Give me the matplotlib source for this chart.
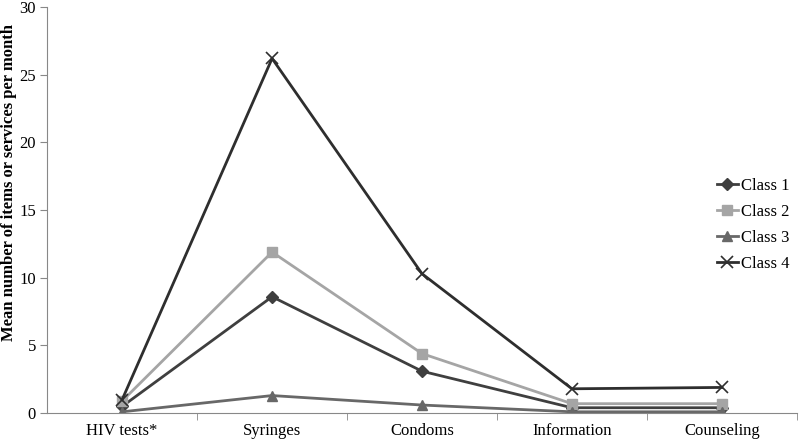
import matplotlib
matplotlib.use("Agg")
import matplotlib.pyplot as plt
import numpy as np

categories = ["HIV tests*", "Syringes", "Condoms", "Information", "Counseling"]
class1 = [0.5, 8.6, 3.1, 0.4, 0.4]
class2 = [0.9, 11.9, 4.4, 0.7, 0.7]
class3 = [0.1, 1.3, 0.6, 0.1, 0.1]
class4 = [1.0, 26.2, 10.3, 1.8, 1.9]

plt.rcParams["font.family"] = ["Liberation Serif", "DejaVu Serif"]

fig = plt.figure(figsize=(8, 4.4), dpi=100)
ax = fig.add_axes([0.059, 0.061, 0.937, 0.923])

x = np.arange(len(categories))
ax.plot(x, class1, color="#3f3f3f", lw=2, marker="D", ms=6, label="Class 1")
ax.plot(x, class2, color="#a5a5a5", lw=2, marker="s", ms=7, label="Class 2")
ax.plot(x, class3, color="#686868", lw=2, marker="^", ms=7, label="Class 3")
ax.plot(x, class4, color="#2e2e2e", lw=2, marker="x", ms=9, mew=1.2, label="Class 4")

ax.set_xlim(-0.5, len(categories) - 0.5)
ax.set_ylim(0, 30)
ax.set_yticks(range(0, 31, 5))
ax.set_xticks(x)
ax.set_xticklabels(categories, fontsize=12)
ax.set_xticks(np.arange(0.5, len(categories), 1), minor=True)
ax.tick_params(axis="x", which="major", length=0, pad=7)
ax.tick_params(axis="x", which="minor", length=5, color="#888888", direction="out")
ax.tick_params(axis="y", length=5, color="#888888", labelsize=12, pad=3)

for s in ["top", "right"]:
    ax.spines[s].set_visible(False)
for s in ["left", "bottom"]:
    ax.spines[s].set_color("#888888")

ax.set_ylabel("Mean number of items or services per month", fontsize=12, fontweight="bold")
ax.yaxis.set_label_coords(-0.04, 0.567)

ax.legend(loc="center left", bbox_to_anchor=(0.893, 0.463), frameon=False, fontsize=12,
          handlelength=1.3, handletextpad=0.15, labelspacing=0.6, borderaxespad=0,
          borderpad=0)

fig.savefig("out.png", dpi=100)
